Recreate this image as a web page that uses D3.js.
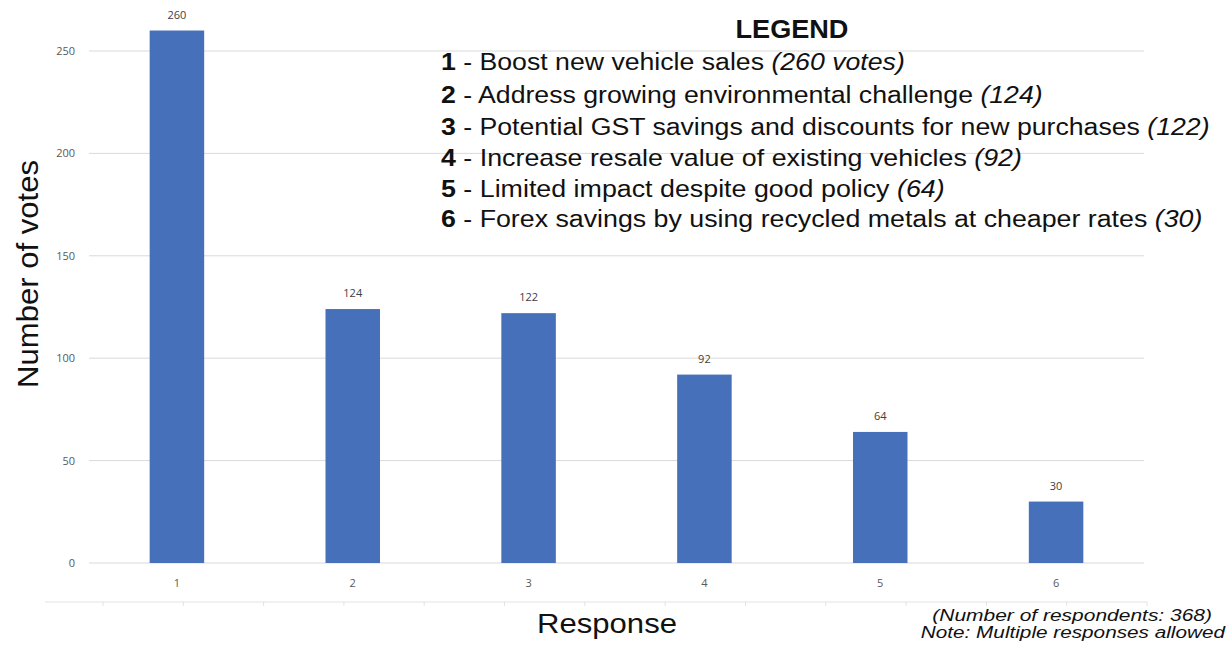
<!DOCTYPE html>
<html><head><meta charset="utf-8">
<script src="https://cdn.jsdelivr.net/npm/d3@7"></script>
<style>body{margin:0;background:#fff}svg{display:block}</style>
</head><body>
<script>
const categories = ["1","2","3","4","5","6"];
const votes = [260,124,122,92,64,30];
const yTicks = [0,50,100,150,200,250];
const legendNums = ["1","2","3","4","5","6"];
const legendTexts = [
  "Boost new vehicle sales",
  "Address growing environmental challenge",
  "Potential GST savings and discounts for new purchases",
  "Increase resale value of existing vehicles",
  "Limited impact despite good policy",
  "Forex savings by using recycled metals at cheaper rates"
];
const legendCounts = ["(260 votes)","(124)","(122)","(92)","(64)","(30)"];
const notes = ["(Number of respondents: 368)","Note: Multiple responses allowed"];

const W=1230,H=647;
const svg=d3.select("body").append("svg").attr("width",W).attr("height",H);
const font="'Liberation Sans', Arial, sans-serif";
const x=d3.scaleBand().domain(categories).range([89,1144]).paddingInner(0.69).paddingOuter(0.345);
const y=d3.scaleLinear().domain([0,250]).range([563,51]);

// stretch a text element horizontally to a target width, anchored at ax
function fitWidth(sel, target, ax){
  const w=sel.node().getBBox().width;
  const s=target/w;
  sel.attr("transform",`translate(${ax},0) scale(${s},1) translate(${-ax},0)`);
}

// gridlines
svg.append("g").selectAll("line").data(yTicks).join("line")
  .attr("x1",89).attr("x2",1144).attr("y1",d=>y(d)).attr("y2",d=>y(d))
  .attr("stroke","#d9d9d9").attr("stroke-width",1);

// y tick labels
svg.append("g").selectAll("text").data(yTicks).join("text")
  .attr("x",75).attr("y",d=>y(d)+4).attr("text-anchor","end")
  .attr("font-family","'Open Sans', 'DejaVu Sans', sans-serif").attr("font-size",11).attr("fill","#595959").text(d=>d);

// bars
svg.append("g").selectAll("rect").data(votes).join("rect")
  .attr("x",(d,i)=>x(categories[i])).attr("width",x.bandwidth())
  .attr("y",d=>y(d)).attr("height",d=>y(0)-y(d)).attr("fill","#4671ba");

// value labels
svg.append("g").selectAll("text").data(votes).join("text")
  .attr("x",(d,i)=>x(categories[i])+x.bandwidth()/2).attr("y",d=>y(d)-12)
  .attr("text-anchor","middle").attr("font-family","'Open Sans', 'DejaVu Sans', sans-serif")
  .attr("font-size",11).attr("fill","#404040").text(d=>d);

// category labels
svg.append("g").selectAll("text").data(categories).join("text")
  .attr("x",d=>x(d)+x.bandwidth()/2).attr("y",587).attr("text-anchor","middle")
  .attr("font-family","'Open Sans', 'DejaVu Sans', sans-serif").attr("font-size",11).attr("fill","#595959").text(d=>d);

// faint lower axis with ticks
const xt=d3.scaleLinear().domain([0,13]).range([103,1147]);
svg.append("line").attr("x1",45).attr("x2",1147).attr("y1",602).attr("y2",602).attr("stroke","#e3e3e3").attr("stroke-width",1);
svg.append("g").selectAll("line").data(d3.range(0,14)).join("line")
  .attr("x1",d=>xt(d)).attr("x2",d=>xt(d)).attr("y1",602).attr("y2",606).attr("stroke","#e3e3e3");

// axis titles
const yt=svg.append("text").attr("text-anchor","middle")
  .attr("font-family",font).attr("font-size",29).attr("fill","#111").text("Number of votes");
{
  const w=yt.node().getBBox().width, s=228/w;
  yt.attr("transform",`translate(38,274) rotate(-90) scale(${s},1)`);
}
const xtl=svg.append("text").attr("x",607).attr("y",633).attr("text-anchor","middle")
  .attr("font-family",font).attr("font-size",27).attr("fill","#111").text("Response");
fitWidth(xtl,140,607);

// legend
const lt=svg.append("text").attr("x",792).attr("y",38).attr("text-anchor","middle")
  .attr("font-family",font).attr("font-size",25).attr("font-weight","bold").attr("fill","#111").text("LEGEND");
fitWidth(lt,113,792);
const baselines=[70,103,135,166,197,227];
const legendWidths=[464,602,769,581,504,762];
const lg=svg.append("g");
legendTexts.forEach((t,i)=>{
  const tx=lg.append("text").attr("x",441).attr("y",baselines[i])
    .attr("font-family",font).attr("font-size",23).attr("fill","#111");
  tx.append("tspan").attr("font-weight","bold").text(legendNums[i]);
  tx.append("tspan").text(" - "+t+" ");
  tx.append("tspan").attr("font-style","italic").text(legendCounts[i]);
  fitWidth(tx,legendWidths[i],441);
});

// notes
const n1=svg.append("text").attr("x",1212).attr("y",621).attr("text-anchor","end")
  .attr("font-family",font).attr("font-size",17).attr("font-style","italic").attr("fill","#111").text(notes[0]);
fitWidth(n1,280,1212);
const n2=svg.append("text").attr("x",1225).attr("y",638).attr("text-anchor","end")
  .attr("font-family",font).attr("font-size",17).attr("font-style","italic").attr("fill","#111").text(notes[1]);
fitWidth(n2,305,1225);
</script>
</body></html>
